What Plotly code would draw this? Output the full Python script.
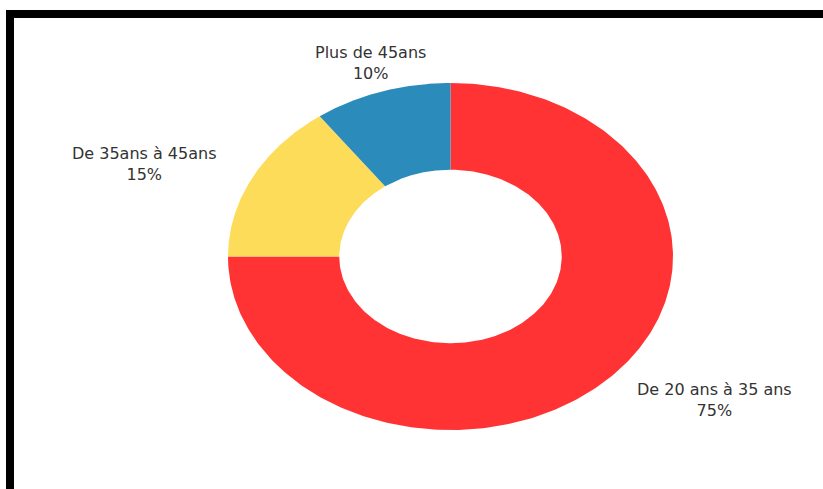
import numpy as np
import plotly.graph_objects as go

labels = ["De 20 ans à 35 ans", "De 35ans à 45ans", "Plus de 45ans"]
values = [75, 15, 10]
colors = ["#ff3333", "#fddc5a", "#2b8bbb"]

W, H = 823, 489
hole = 0.5
label_r = 1.17
font = dict(family="DejaVu Sans, sans-serif", size=16, color="#333333")

fig = go.Figure()
total = sum(values)
cum = 0.0
for lab, val, col in zip(labels, values, colors):
    f0 = cum / total
    f1 = (cum + val) / total
    cum += val
    t = np.linspace(f0, f1, 300)
    ang = np.pi / 2 - 2 * np.pi * t
    xo, yo = np.cos(ang), np.sin(ang)
    xs = np.concatenate([xo, hole * xo[::-1], [xo[0]]])
    ys = np.concatenate([yo, hole * yo[::-1], [yo[0]]])
    fig.add_trace(go.Scatter(x=xs, y=ys, mode="lines", fill="toself",
                             fillcolor=col, line=dict(width=0, color=col),
                             hoverinfo="skip", showlegend=False))
    fm = (f0 + f1) / 2
    am = np.pi / 2 - 2 * np.pi * fm
    lx, ly = label_r * np.cos(am), label_r * np.sin(am)
    if abs(np.cos(am)) < 0.5:
        xa = "center"
    elif np.cos(am) < 0:
        xa = "right"
    else:
        xa = "left"
    fig.add_annotation(x=lx, y=ly, xref="x", yref="y", text=f"{lab}<br>{val}%",
                       showarrow=False, xanchor=xa, yanchor="middle",
                       align="center", font=font)

# pixel geometry of the ellipse in the figure
cx, cy, rx, ry = 450.5, 256.5, 222.5, 173.5
fig.update_xaxes(range=[-cx / rx, (W - cx) / rx], visible=False, fixedrange=True)
fig.update_yaxes(range=[-(H - cy) / ry, cy / ry], visible=False, fixedrange=True)

fig.add_shape(type="rect", xref="paper", yref="paper",
              x0=10 / W, x1=1.05, y0=-0.05, y1=1 - 14 / H,
              line=dict(color="black", width=8), fillcolor="rgba(0,0,0,0)")

fig.update_layout(width=W, height=H, margin=dict(l=0, r=0, t=0, b=0),
                  paper_bgcolor="white", plot_bgcolor="white")

fig.write_html("out.html", config={"displayModeBar": False},
               post_script="document.body.style.margin='0';document.body.style.overflow='hidden';")
